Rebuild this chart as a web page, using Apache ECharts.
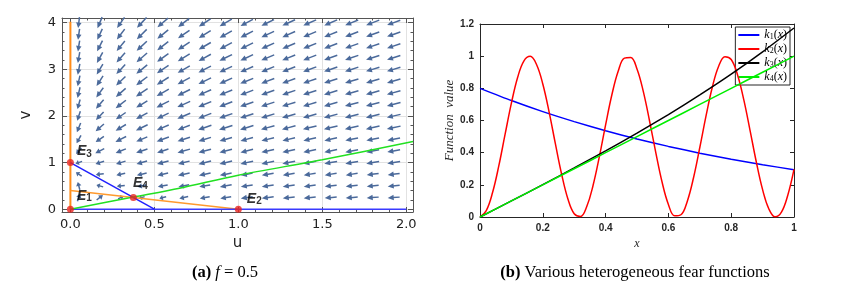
<!DOCTYPE html>
<html><head><meta charset="utf-8">
<script src="https://cdn.jsdelivr.net/npm/echarts@6/dist/echarts.min.js"></script>
<style>html,body{margin:0;padding:0;background:#fff}#c{width:855px;height:282px}</style>
</head><body><div id="c"></div>
<script>
// ---------- Panel (a): phase plane, f = 0.5 ----------
const aXTicks = [0, 0.5, 1, 1.5, 2];
const aXTickLabels = ['0.0', '0.5', '1.0', '1.5', '2.0'];
const aXMinor = [0.1, 0.2, 0.3, 0.4, 0.6, 0.7, 0.8, 0.9, 1.1, 1.2, 1.3, 1.4, 1.6, 1.7, 1.8, 1.9];
const aYTicks = [0, 1, 2, 3, 4];
const aYTickLabels = ['0', '1', '2', '3', '4'];
const aYMinor = [0.2, 0.4, 0.6, 0.8, 1.2, 1.4, 1.6, 1.8, 2.2, 2.4, 2.6, 2.8, 3.2, 3.4, 3.6, 3.8];

// arrow grid (u columns, v rows from top to bottom)
const uCols = [0.05, 0.175, 0.3, 0.425, 0.55, 0.675, 0.8, 0.925, 1.05, 1.175, 1.3, 1.425, 1.55, 1.675, 1.8, 1.925];
const vRows = [4.0, 3.75, 3.5, 3.25, 3.0, 2.75, 2.5, 2.25, 2.0, 1.75, 1.5, 1.25, 1.0, 0.75, 0.5, 0.25];
// arrow directions on screen, degrees counter-clockwise from +u
const arrowAngles = [
  [263, 247, 235, 227, 221, 217, 213, 210, 208, 206, 205, 204, 203, 202, 201, 200],
  [262, 245, 233, 225, 219, 215, 212, 209, 207, 205, 204, 203, 202, 201, 200, 199],
  [261, 243, 231, 223, 218, 213, 210, 208, 206, 204, 203, 202, 201, 200, 199, 198],
  [260, 241, 229, 221, 216, 212, 209, 206, 205, 203, 202, 201, 200, 199, 198, 198],
  [259, 239, 227, 219, 214, 210, 207, 205, 203, 202, 201, 200, 199, 198, 197, 197],
  [258, 237, 224, 217, 212, 208, 206, 204, 202, 201, 200, 199, 198, 197, 197, 196],
  [257, 234, 221, 214, 210, 206, 204, 202, 201, 200, 199, 198, 197, 196, 196, 195],
  [255, 230, 218, 211, 207, 204, 202, 201, 199, 198, 197, 197, 196, 195, 195, 194],
  [252, 226, 215, 209, 205, 203, 201, 199, 198, 197, 196, 196, 195, 194, 194, 193],
  [248, 221, 211, 206, 203, 201, 199, 198, 197, 196, 195, 194, 194, 193, 193, 192],
  [241, 215, 207, 203, 200, 198, 197, 196, 195, 194, 194, 193, 193, 192, 192, 191],
  [228, 207, 202, 199, 198, 196, 195, 195, 194, 193, 193, 192, 192, 191, 191, 190],
  [200, 198, 197, 196, 195, 194, 194, 193, 192, 192, 191, 191, 190, 190, 190, 189],
  [146, 187, 192, 193, 193, 192, 192, 191, 191, 190, 190, 189, 189, 189, 188, 188],
  [105, 164, 185, 190, 191, 191, 190, 190, 189, 189, 188, 188, 187, 187, 187, 186],
  [70, 38, 25, 198, 194, 192, 190, 189, 188, 187, 186, 186, 185, 185, 184, 184]
];
// arrow lengths in pixels (relative magnitude)
const arrowLengths = [
  [11, 12, 13, 14, 14, 14, 14, 14, 14, 14, 14, 14, 14, 14, 14, 14],
  [11, 12, 13, 14, 14, 14, 14, 14, 14, 14, 14, 14, 14, 14, 14, 14],
  [11, 12, 13, 14, 14, 14, 14, 14, 14, 14, 14, 14, 14, 14, 14, 14],
  [11, 12, 13, 14, 14, 14, 14, 14, 14, 14, 14, 14, 14, 14, 14, 14],
  [11, 12, 13, 14, 14, 14, 14, 14, 14, 14, 14, 14, 14, 14, 14, 14],
  [11, 12, 13, 14, 14, 14, 14, 14, 14, 14, 14, 14, 14, 14, 14, 14],
  [11, 12, 13, 14, 14, 14, 14, 14, 14, 14, 14, 14, 14, 14, 14, 14],
  [10, 12, 13, 13, 14, 14, 14, 14, 14, 14, 14, 14, 14, 14, 14, 14],
  [10, 11, 12, 13, 13, 14, 14, 14, 14, 14, 14, 14, 14, 14, 14, 14],
  [10, 11, 12, 13, 13, 13, 14, 14, 14, 14, 14, 14, 14, 14, 14, 14],
  [9, 10, 12, 12, 13, 13, 13, 13, 13, 13, 13, 13, 13, 13, 13, 13],
  [8, 10, 11, 12, 12, 13, 13, 13, 13, 13, 13, 13, 13, 13, 13, 13],
  [7, 9, 10, 11, 12, 12, 13, 13, 13, 13, 13, 13, 13, 13, 13, 13],
  [7, 8, 9, 10, 11, 12, 12, 12, 12, 12, 12, 12, 12, 12, 12, 12],
  [8, 7, 8, 9, 10, 11, 11, 12, 12, 12, 12, 12, 12, 12, 12, 12],
  [8, 8, 6, 6, 7, 9, 10, 11, 12, 12, 12, 12, 12, 12, 12, 12]
];

// nullclines and curve
const orangeVertical = [[0, 0], [0, 4.02]];
const orangeSlant = [[0, 0.4], [1, 0]];
const blueSlant = [[0, 1], [0.5, 0]];
const blueHorizontal = [[0, 0], [2, 0]];
const greenCurve = [[0, 0], [0.375, 0.26], [0.65, 0.45], [1.0, 0.73], [1.5, 1.06], [2.04, 1.45]];
// equilibria
const eqNames = ['1', '2', '3', '4'];
const eqPoints = [[0, 0], [1, 0], [0, 1], [0.375, 0.25]];

// ---------- Panel (b): fear functions ----------
const bXTicks = [0, 0.2, 0.4, 0.6, 0.8, 1];
const bYTicks = [0, 0.2, 0.4, 0.6, 0.8, 1, 1.2];
const xCoarse = [0, 0.1, 0.2, 0.3, 0.4, 0.5, 0.6, 0.7, 0.8, 0.9, 1.0];
const k1 = [0.8, 0.724, 0.655, 0.593, 0.536, 0.485, 0.439, 0.397, 0.359, 0.325, 0.294];
const k3 = [0, 0.100, 0.201, 0.305, 0.411, 0.521, 0.637, 0.759, 0.888, 1.027, 1.175];
const k4 = [0, 0.1, 0.2, 0.3, 0.4, 0.5, 0.6, 0.7, 0.8, 0.9, 1.0];
const xFine = [0, 0.02, 0.04, 0.06, 0.08, 0.1, 0.12, 0.14, 0.16, 0.18, 0.2, 0.22, 0.24, 0.26, 0.28, 0.3,
  0.32, 0.34, 0.36, 0.38, 0.4, 0.42, 0.44, 0.46, 0.48, 0.5, 0.52, 0.54, 0.56, 0.58, 0.6, 0.62, 0.64, 0.66,
  0.68, 0.7, 0.72, 0.74, 0.76, 0.78, 0.8, 0.82, 0.84, 0.86, 0.88, 0.9, 0.92, 0.94, 0.96, 0.98, 1.0];
const k2 = [0, 0.040, 0.152, 0.319, 0.515, 0.708, 0.869, 0.971, 0.999, 0.948, 0.827, 0.654, 0.456, 0.266, 0.112, 0.020,
  0.003, 0.065, 0.196, 0.374, 0.573, 0.760, 0.906, 0.988, 0.992, 0.920, 0.781, 0.597, 0.399, 0.216, 0.078, 0.007,
  0.014, 0.097, 0.244, 0.432, 0.630, 0.808, 0.937, 0.997, 0.979, 0.885, 0.730, 0.539, 0.342, 0.170, 0.050, 0.001,
  0.030, 0.134, 0.296];
const seriesNames = ['k1', 'k2', 'k3', 'k4'];
const seriesColors = ['#0000ff', '#ff0000', '#000000', '#00ee00'];

// ---------- build ----------
const ARROW = '#4b6a9b';
const arrowData = [];
vRows.forEach((v, j) => uCols.forEach((u, i) => arrowData.push([u, v, arrowAngles[j][i], arrowLengths[j][i]])));

function renderArrow(params, api) {
  const p = api.coord([api.value(0), api.value(1)]);
  const a = api.value(2) * Math.PI / 180, L = api.value(3);
  const dx = Math.cos(a), dy = -Math.sin(a);
  const tip = [p[0] + dx * L / 2, p[1] + dy * L / 2];
  const tail = [p[0] - dx * L / 2, p[1] - dy * L / 2];
  const h = Math.min(6, L * 0.5), w = 2.7;
  const base = [tip[0] - dx * h, tip[1] - dy * h];
  const nx = -dy, ny = dx;
  return {
    type: 'group', children: [
      { type: 'line', shape: { x1: tail[0], y1: tail[1], x2: base[0] + dx, y2: base[1] + dy }, style: { stroke: ARROW, lineWidth: 1.5 } },
      { type: 'polygon', shape: { points: [tip, [base[0] + nx * w, base[1] + ny * w], [base[0] - nx * w, base[1] - ny * w]] }, style: { fill: ARROW } }
    ]
  };
}

const frameA = '#555555';
const tickFontA = { fontFamily: 'DejaVu Sans', fontSize: 13, color: '#222' };
function aAxis(kind, pos, major, extra) {
  const isX = kind === 'x';
  const base = {
    type: 'value', gridIndex: 0, position: pos,
    min: isX ? -0.05 : -0.06, max: isX ? 2.04 : 4.1,
    axisLine: { show: major, onZero: false, lineStyle: { color: frameA, width: 1 } },
    axisTick: { show: true, inside: true, length: major ? 5 : 2.5, lineStyle: { color: frameA, width: 1 },
      customValues: major ? (isX ? aXTicks : aYTicks) : (isX ? aXMinor : aYMinor) },
    axisLabel: { show: false },
    splitLine: { show: false }
  };
  return Object.assign(base, extra || {});
}
function bAxis(kind, pos, labels) {
  const isX = kind === 'x';
  return {
    type: 'value', gridIndex: 1, position: pos,
    min: 0, max: isX ? 1 : 1.2, interval: 0.2,
    axisLine: { show: true, onZero: false, lineStyle: { color: '#262626', width: 1 } },
    axisTick: { show: true, inside: true, length: 4, lineStyle: { color: '#262626' } },
    axisLabel: { show: labels, fontFamily: 'Liberation Sans', fontWeight: 'bold', fontSize: 10, color: '#262626', margin: 6,
      formatter: v => String(+v.toFixed(1)) },
    splitLine: { show: false }
  };
}

const xAxes = [
  aAxis('x', 'bottom', true, {
    name: 'u', nameLocation: 'middle', nameGap: 19,
    nameTextStyle: { fontFamily: 'DejaVu Sans', fontSize: 15, color: '#222' },
    axisLabel: Object.assign({ show: true, margin: 6, customValues: aXTicks,
      formatter: v => aXTickLabels[aXTicks.indexOf(+v)] }, tickFontA),
    splitLine: { show: true, lineStyle: { color: '#e2e2e2', width: 1 } }
  }),
  aAxis('x', 'bottom', false),
  aAxis('x', 'top', true),
  aAxis('x', 'top', false),
  Object.assign(bAxis('x', 'bottom', true), { name: 'x', nameLocation: 'middle', nameGap: 17,
    nameTextStyle: { fontFamily: 'Liberation Serif', fontStyle: 'italic', fontSize: 12, color: '#262626' } }),
  bAxis('x', 'top', false)
];
const yAxes = [
  aAxis('y', 'left', true, {
    name: 'v', nameLocation: 'middle', nameGap: 28, nameRotate: 90,
    nameTextStyle: { fontFamily: 'DejaVu Sans', fontSize: 15, color: '#222' },
    axisLabel: Object.assign({ show: true, margin: 6, customValues: aYTicks,
      formatter: v => aYTickLabels[aYTicks.indexOf(+v)] }, tickFontA),
    splitLine: { show: true, lineStyle: { color: '#e2e2e2', width: 1 } }
  }),
  aAxis('y', 'left', false),
  aAxis('y', 'right', true),
  aAxis('y', 'right', false),
  Object.assign(bAxis('y', 'left', true), { name: 'Function  value', nameLocation: 'middle', nameGap: 22, nameRotate: 90,
    nameTextStyle: { fontFamily: 'Liberation Serif', fontStyle: 'italic', fontSize: 13, color: '#262626' } }),
  bAxis('y', 'right', false)
];

function lineA(data, color, width, z) {
  return { type: 'line', xAxisIndex: 0, yAxisIndex: 0, data, symbol: 'none', silent: true, z: z || 3,
    lineStyle: { color, width: width || 1.5 } };
}

const series = [
  { type: 'custom', xAxisIndex: 0, yAxisIndex: 0, data: arrowData, renderItem: renderArrow, z: 2, silent: true },
  lineA(orangeVertical, '#ff8c1a', 2),
  lineA(orangeSlant, '#ff9a2e', 1.5),
  lineA(blueHorizontal, '#3a3aff', 1.5),
  lineA(blueSlant, '#2020ff', 1.5),
  Object.assign(lineA(greenCurve, '#22e022', 1.5), { smooth: 0.3 }),
  { type: 'scatter', xAxisIndex: 0, yAxisIndex: 0, z: 5, symbolSize: 7, itemStyle: { color: '#e8231e' },
    data: eqPoints.map((p, i) => ({ value: p, name: eqNames[i] })),
    label: { show: true, position: 'right', distance: 2,
      formatter: p => '{e|E}{s|' + p.name + '}',
      rich: { e: { fontFamily: 'Liberation Sans', fontWeight: 'bold', fontStyle: 'italic', fontSize: 14, color: '#000' },
              s: { fontFamily: 'Liberation Sans', fontWeight: 'bold', fontSize: 10, color: '#000', padding: [5, 0, 0, 0] } } },
    labelLayout: p => {
      const offs = [[1, -13], [3, -10], [1, -11], [-6, -14]];
      const o = offs[p.dataIndex];
      return { dx: o[0], dy: o[1] };
    }
  }
];
seriesNames.forEach((n, i) => {
  const xs = i === 1 ? xFine : xCoarse;
  const ys = [k1, k2, k3, k4][i];
  series.push({ type: 'line', name: n, xAxisIndex: 4, yAxisIndex: 4, symbol: 'none', showSymbol: false, smooth: i === 1 ? 0.4 : 0.2,
    data: xs.map((x, j) => [x, ys[j]]), lineStyle: { color: seriesColors[i], width: 1.5 }, itemStyle: { color: seriesColors[i] },
    z: 3 + i, silent: true });
});

const chart = echarts.init(document.getElementById('c'), null, { renderer: 'canvas' });
chart.setOption({
  animation: false,
  backgroundColor: '#fff',
  grid: [
    { left: 62, right: 442, top: 18, bottom: 70 },
    { left: 480, right: 61, top: 24, bottom: 65 }
  ],
  xAxis: xAxes,
  yAxis: yAxes,
  legend: {
    data: seriesNames, right: 65, top: 27, orient: 'vertical', icon: 'rect', itemWidth: 21, itemHeight: 2, itemGap: 2,
    padding: [2, 3, 2, 3], backgroundColor: '#fff', borderColor: '#262626', borderWidth: 1, borderRadius: 0,
    formatter: n => '{i|k}{s|' + n.slice(1) + '}{n|(}{i|x}{n|)}',
    textStyle: { rich: {
      i: { fontFamily: 'Liberation Serif', fontStyle: 'italic', fontSize: 12, color: '#000', lineHeight: 13 },
      n: { fontFamily: 'Liberation Serif', fontSize: 12, color: '#000', lineHeight: 13 },
      s: { fontFamily: 'Liberation Serif', fontSize: 8, color: '#000', padding: [4, 0, 0, 0], lineHeight: 13 } } }
  },
  title: [
    { text: '{b|(a)} {i|f} = 0.5', left: 220, top: 259, textAlign: 'center',
      textStyle: { rich: {
        b: { fontFamily: 'Liberation Serif', fontWeight: 'bold', fontSize: 16.5, color: '#000' },
        i: { fontFamily: 'Liberation Serif', fontStyle: 'italic', fontSize: 16.5, color: '#000' } },
        fontFamily: 'Liberation Serif', fontSize: 16.5, fontWeight: 'normal', color: '#000' } },
    { text: '{b|(b)} Various heterogeneous fear functions', left: 630, top: 259, textAlign: 'center',
      textStyle: { rich: { b: { fontFamily: 'Liberation Serif', fontWeight: 'bold', fontSize: 16.5, color: '#000' } },
        fontFamily: 'Liberation Serif', fontSize: 16.5, fontWeight: 'normal', color: '#000' } }
  ],
  series
});
</script>
</body></html>
